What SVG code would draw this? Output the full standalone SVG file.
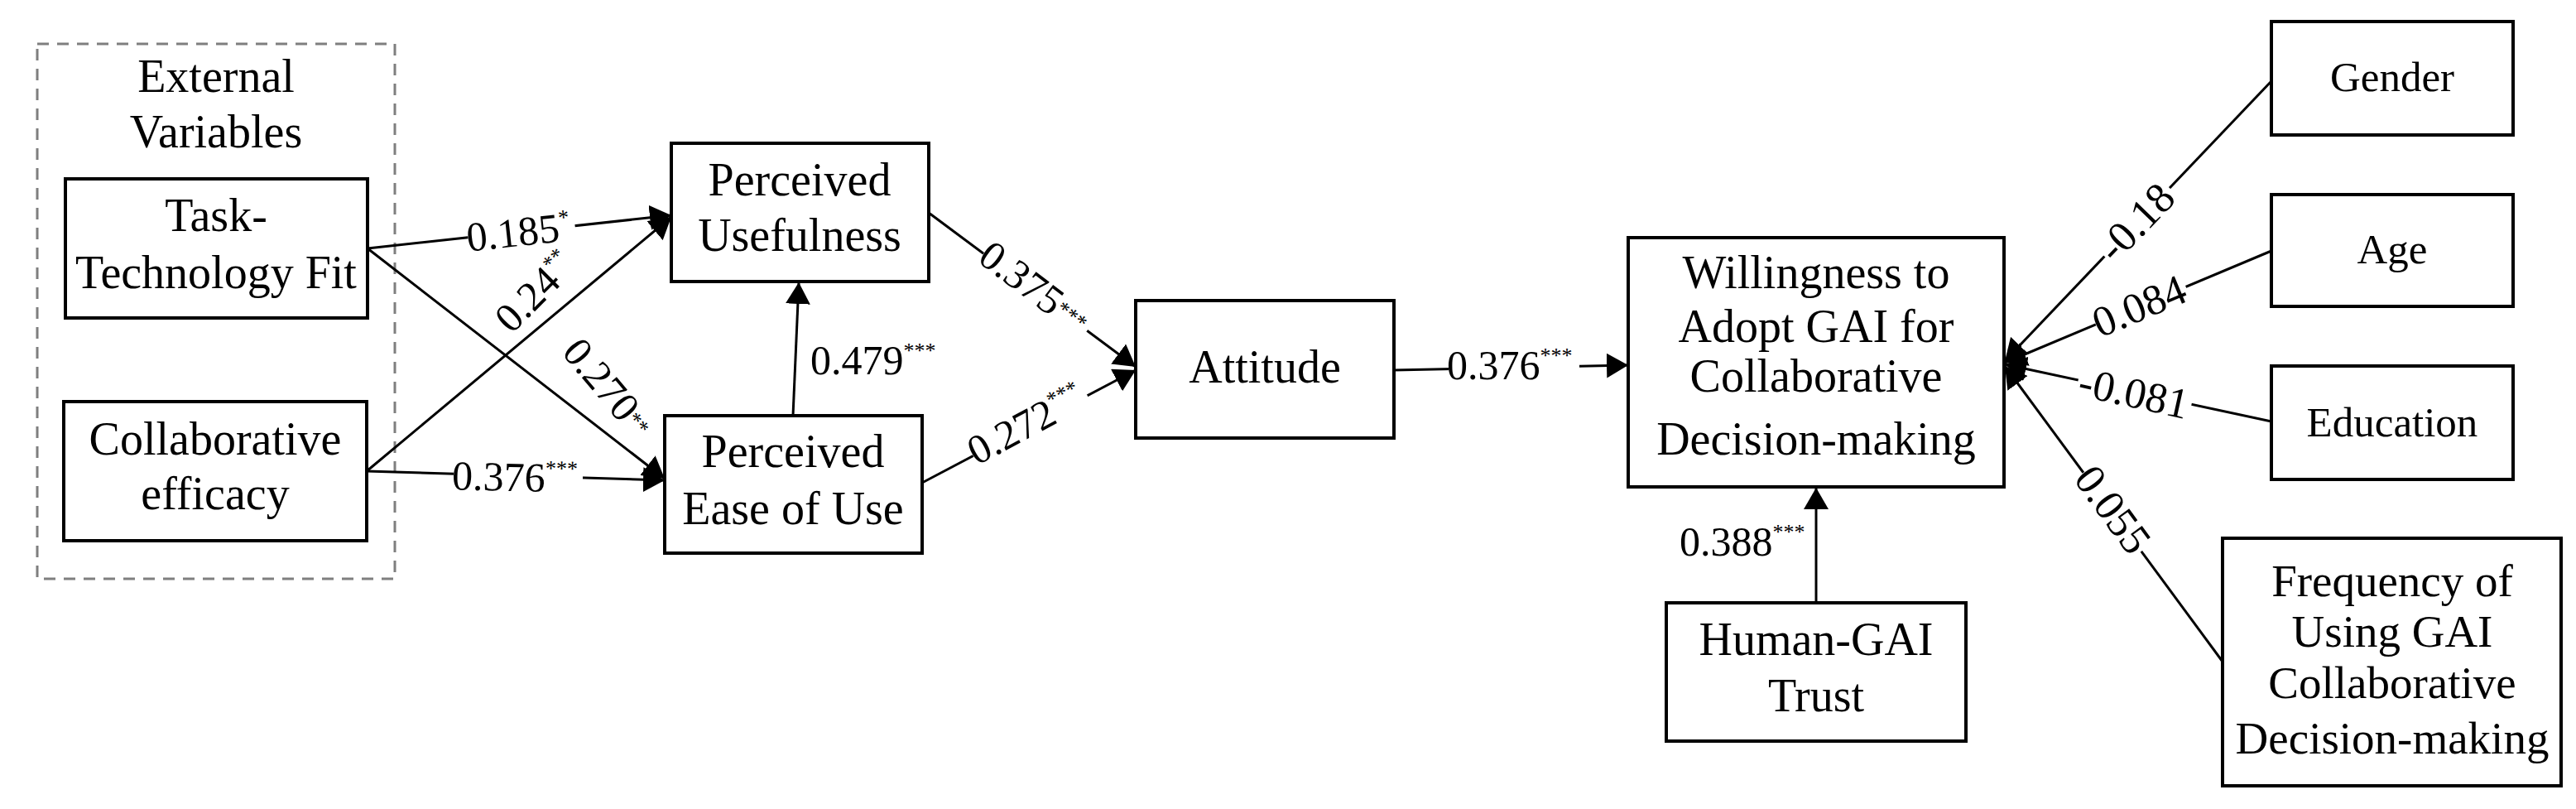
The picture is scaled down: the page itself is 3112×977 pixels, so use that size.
<svg xmlns="http://www.w3.org/2000/svg" width="3112" height="977" viewBox="0 0 3112 977">
<style>
  .box{fill:#fff;stroke:#000;stroke-width:4}
  .nt{font-family:"Liberation Serif","Times New Roman",serif;font-size:56px;fill:#000;text-anchor:middle}
  .dt{font-family:"Liberation Serif","Times New Roman",serif;font-size:51px;fill:#000;text-anchor:middle}
  .ln{stroke:#000;stroke-width:3;fill:none}
  .arr{marker-end:url(#ah)}
  .lb{font-family:"Liberation Serif","Times New Roman",serif;font-size:50px;fill:#000}
  .lbd{font-size:52px}
  .lbc{text-anchor:middle}
  .bg{fill:#fff;stroke:none}
  .sup{font-size:26px}
  .dash{fill:none;stroke:#7f7f7f;stroke-width:3;stroke-dasharray:14 10}
</style>
<defs>
  <marker id="ah" viewBox="0 0 26 30" refX="26" refY="15" markerWidth="26" markerHeight="30" markerUnits="userSpaceOnUse" orient="auto">
    <path d="M0,0 L26,15 L0,30 Z" fill="#000"/>
  </marker>
</defs>

<g id="external-variables">
  <rect class="dash" x="45" y="53" width="432" height="646"/>
  <text class="nt" x="261" y="111">External</text>
  <text class="nt" x="261" y="178">Variables</text>
</g>

<g id="connectors">
  <line class="ln arr" x1="444" y1="300" x2="811" y2="260"/>
  <line class="ln arr" x1="444" y1="300" x2="803" y2="578"/>
  <line class="ln arr" x1="443" y1="569" x2="811" y2="262"/>
  <line class="ln arr" x1="443" y1="569" x2="803" y2="580"/>
  <line class="ln arr" x1="958" y1="502" x2="965" y2="341"/>
  <line class="ln arr" x1="1122" y1="257" x2="1372" y2="443"/>
  <line class="ln arr" x1="1114" y1="583" x2="1372" y2="447"/>
  <line class="ln arr" x1="1684" y1="447" x2="1967" y2="441"/>
  <line class="ln arr" x1="2194" y1="728" x2="2194" y2="589"/>
  <line class="ln arr" x1="2744" y1="98" x2="2422" y2="436"/>
  <line class="ln arr" x1="2744" y1="303" x2="2422" y2="438"/>
  <line class="ln arr" x1="2744" y1="509" x2="2422" y2="440"/>
  <line class="ln arr" x1="2685" y1="799" x2="2422" y2="442"/>

  <g transform="translate(626,280) rotate(-6.2)">
    <rect class="bg" x="-61" y="-20" width="130" height="40"/>
    <text class="lb lbc" x="0" y="17">0.185<tspan class="sup" dy="-20">*</tspan></text>
  </g>
  <g transform="translate(646,352) rotate(-45)">
    <text class="lb lbc" x="0" y="17">0.24<tspan class="sup" dy="-20">**</tspan></text>
  </g>
  <g transform="translate(735,468) rotate(50)">
    <text class="lb lbc" x="0" y="17">0.270<tspan class="sup" dy="-8">**</tspan></text>
  </g>
  <g transform="translate(622,576) rotate(1.4)">
    <rect class="bg" x="-74" y="-20" width="156" height="40"/>
    <text class="lb lbc" x="0" y="17">0.376<tspan class="sup" dy="-20">***</tspan></text>
  </g>
  <text class="lb" x="979" y="452">0.479<tspan class="sup" dy="-20">***</tspan></text>
  <g transform="translate(1250,347) rotate(37)">
    <rect class="bg" x="-74" y="-20" width="156" height="40"/>
    <text class="lb lbc" x="0" y="17">0.375<tspan class="sup" dy="-8">***</tspan></text>
  </g>
  <g transform="translate(1239,512) rotate(-28)">
    <rect class="bg" x="-74" y="-20" width="156" height="40"/>
    <text class="lb lbc" x="0" y="17">0.272<tspan class="sup" dy="-20">***</tspan></text>
  </g>
  <rect class="bg" x="1750" y="424" width="158" height="40"/>
  <text class="lb" x="1748" y="458">0.376<tspan class="sup" dy="-20">***</tspan></text>
  <text class="lb" x="2029" y="671">0.388<tspan class="sup" dy="-20">***</tspan></text>
  <g transform="translate(2580,268) rotate(-46)">
    <rect class="bg" x="-56" y="-20" width="114" height="40"/>
    <text class="lb lbd lbc" x="0" y="18">-0.18</text>
  </g>
  <g transform="translate(2584,369) rotate(-22.7)">
    <rect class="bg" x="-57" y="-20" width="118" height="40"/>
    <text class="lb lbd lbc" x="0" y="18">0.084</text>
  </g>
  <g transform="translate(2578,474) rotate(12.4)">
    <rect class="bg" x="-69" y="-20" width="140" height="40"/>
    <text class="lb lbd lbc" x="0" y="18">-0.081</text>
  </g>
  <g transform="translate(2553,615) rotate(53.8)">
    <rect class="bg" x="-57" y="-20" width="118" height="40"/>
    <text class="lb lbd lbc" x="0" y="18">0.055</text>
  </g>
</g>

<g id="task-technology-fit">
  <rect class="box" x="79" y="216" width="365" height="168"/>
  <text class="nt" x="261" y="279">Task-</text>
  <text class="nt" x="261" y="348">Technology Fit</text>
</g>

<g id="collaborative-efficacy">
  <rect class="box" x="77" y="485" width="366" height="168"/>
  <text class="nt" x="260" y="549">Collaborative</text>
  <text class="nt" x="260" y="615">efficacy</text>
</g>

<g id="perceived-usefulness">
  <rect class="box" x="811" y="173" width="311" height="167"/>
  <text class="nt" x="966" y="236">Perceived</text>
  <text class="nt" x="966" y="303">Usefulness</text>
</g>

<g id="perceived-ease-of-use">
  <rect class="box" x="803" y="502" width="311" height="166"/>
  <text class="nt" x="958" y="564">Perceived</text>
  <text class="nt" x="958" y="633">Ease of Use</text>
</g>

<g id="attitude">
  <rect class="box" x="1372" y="363" width="312" height="166"/>
  <text class="nt" x="1528" y="462">Attitude</text>
</g>

<g id="willingness">
  <rect class="box" x="1967" y="287" width="454" height="301"/>
  <text class="nt" x="2194" y="348">Willingness to</text>
  <text class="nt" x="2194" y="413">Adopt GAI for</text>
  <text class="nt" x="2194" y="473">Collaborative</text>
  <text class="nt" x="2194" y="549">Decision-making</text>
</g>

<g id="human-gai-trust">
  <rect class="box" x="2013" y="728" width="362" height="167"/>
  <text class="nt" x="2194" y="791">Human-GAI</text>
  <text class="nt" x="2194" y="859">Trust</text>
</g>

<g id="gender">
  <rect class="box" x="2744" y="26" width="292" height="137"/>
  <text class="dt" x="2890" y="110">Gender</text>
</g>

<g id="age">
  <rect class="box" x="2744" y="235" width="292" height="135"/>
  <text class="dt" x="2890" y="318">Age</text>
</g>

<g id="education">
  <rect class="box" x="2744" y="442" width="292" height="137"/>
  <text class="dt" x="2890" y="527">Education</text>
</g>

<g id="frequency">
  <rect class="box" x="2685" y="650" width="409" height="299"/>
  <text class="nt" x="2890" y="720" style="font-size:55px">Frequency of</text>
  <text class="nt" x="2890" y="781" style="font-size:55px">Using GAI</text>
  <text class="nt" x="2890" y="843" style="font-size:55px">Collaborative</text>
  <text class="nt" x="2890" y="910" style="font-size:55px">Decision-making</text>
</g>
</svg>
